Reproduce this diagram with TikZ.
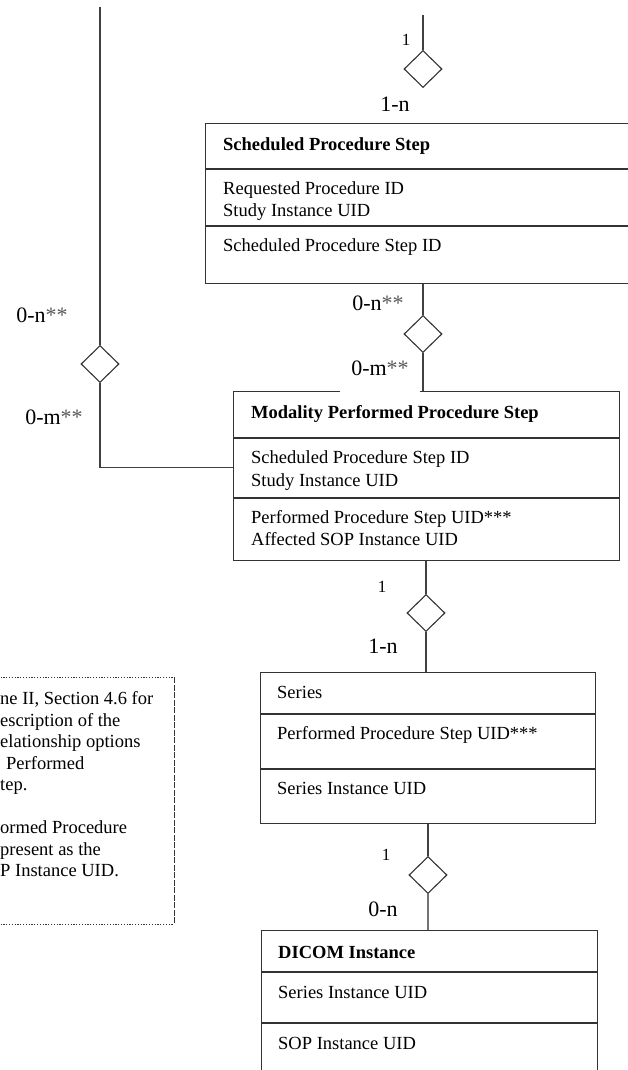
\documentclass[tikz,border=0pt]{standalone}
\usepackage{fontspec}
\setmainfont{Liberation Serif}
\usetikzlibrary{shapes.geometric}

\begin{document}
\begin{tikzpicture}[x=1pt,y=-1pt,%%
  lineStyle/.style={draw=black!75,line width=1.1pt},%%
  boxStyle/.style={draw=black!80,line width=1.4pt,inner sep=0pt},%%
  relStyle/.style={diamond,draw=black!80,line width=1.1pt,fill=white,inner sep=0pt,minimum width=38pt,minimum height=37pt},%%
  titleStyle/.style={anchor=base west,inner sep=0pt,font=\fontsize{18.5}{22}\selectfont\bfseries},%%
  fieldStyle/.style={anchor=base west,inner sep=0pt,font=\fontsize{18.5}{22}\selectfont},%%
  cardStyle/.style={inner sep=1pt,font=\fontsize{22}{26}\selectfont},%%
  oneStyle/.style={inner sep=1pt,font=\fontsize{17}{20}\selectfont},%%
  noteEdge/.style={draw=black!80,line width=1pt,dash pattern=on 1.2pt off 1.6pt},%%
  noteSide/.style={draw=black!80,line width=1pt,dash pattern=on 6pt off 1.5pt}%%
]
%%
\useasboundingbox (0,0) rectangle (627,1070);
%%
\pgfmathsetmacro{\bl}{5.5}
\newcommand{\stars}{{\color{black!65}**}}
%%
%% Scheduled Procedure Step.
\node[boxStyle,anchor=north west,minimum width=440pt,minimum height=160pt] (sps) at (205,123) {};
\draw[boxStyle] (205,169) -- (645,169);
\draw[boxStyle] (205,226) -- (645,226);
\node[titleStyle] (spsTitle) at (223,145+\bl) {Scheduled Procedure Step};
\node[fieldStyle] (spsReqId) at (223,189+\bl) {Requested Procedure ID};
\node[fieldStyle] (spsStudyUid) at (223,211+\bl) {Study Instance UID};
\node[fieldStyle] (spsStepId) at (223,246+\bl) {Scheduled Procedure Step ID};
%%
%% Modality Performed Procedure Step.
\node[boxStyle,anchor=north west,minimum width=386pt,minimum height=169pt] (mpps) at (233,391) {};
\draw[boxStyle] (233,438) -- (619,438);
\draw[boxStyle] (233,498) -- (619,498);
\node[titleStyle] (mppsTitle) at (251,413+\bl) {Modality Performed Procedure Step};
\node[fieldStyle] (mppsStepId) at (251,458+\bl) {Scheduled Procedure Step ID};
\node[fieldStyle] (mppsStudyUid) at (251,481+\bl) {Study Instance UID};
\node[fieldStyle] (mppsPpsUid) at (251,518+\bl) {Performed Procedure Step UID***};
\node[fieldStyle] (mppsSopUid) at (251,540+\bl) {Affected SOP Instance UID};
%%
%% Series.
\node[boxStyle,anchor=north west,minimum width=335pt,minimum height=151pt] (series) at (260,672) {};
\draw[boxStyle] (260,714) -- (595,714);
\draw[boxStyle] (260,769) -- (595,769);
\node[titleStyle,font=\fontsize{18.5}{22}\selectfont] (seriesTitle) at (277,693+\bl) {Series};
\node[fieldStyle] (seriesPpsUid) at (277,734+\bl) {Performed Procedure Step UID***};
\node[fieldStyle] (seriesUid) at (277,789+\bl) {Series Instance UID};
%%
%% DICOM Instance.
\node[boxStyle,anchor=north west,minimum width=336pt,minimum height=160pt] (dicom) at (261,930) {};
\draw[boxStyle] (261,972) -- (597,972);
\draw[boxStyle] (261,1023) -- (597,1023);
\node[titleStyle] (dicomTitle) at (278,953+\bl) {DICOM Instance};
\node[fieldStyle] (dicomSeriesUid) at (278,993+\bl) {Series Instance UID};
\node[fieldStyle] (dicomSopUid) at (278,1044+\bl) {SOP Instance UID};
%%
%% Cardinalities.
\node[oneStyle] (cTop) at (406,40) {1};
\node[cardStyle] (cSps) at (395,104) {1-n};
\node[cardStyle] (cSpsN) at (378,303) {0-n\stars};
\node[cardStyle,fill=white,minimum width=80pt,minimum height=50pt] (cMppsM) at (380,368) {0-m\stars};
\node[cardStyle] (cLeftN) at (42,315) {0-n\stars};
\node[cardStyle] (cLeftM) at (54,417) {0-m\stars};
\node[oneStyle] (cMpps) at (382,587) {1};
\node[cardStyle] (cSeries) at (383,646) {1-n};
\node[oneStyle] (cSeriesOne) at (386,855) {1};
\node[cardStyle] (cDicom) at (383,909) {0-n};
%%
%% Relationships.
\node[relStyle] (dTop) at (423,69) {};
\node[relStyle] (dSpsMpps) at (423,334) {};
\node[relStyle] (dLeft) at (100,364) {};
\node[relStyle] (dMppsSeries) at (426,613) {};
\node[relStyle] (dSeriesDicom) at (428,875) {};
\coordinate (topEnd) at (423,15);
\coordinate (leftEnd) at (100,7);
%%
\draw[lineStyle] (topEnd) -- (dTop.north);
\draw[lineStyle] (dSpsMpps.north |- sps.south) -- (dSpsMpps.north);
\draw[lineStyle] (dSpsMpps.south) -- (dSpsMpps.south |- mpps.north);
\draw[lineStyle] (leftEnd) -- (dLeft.north);
\draw[lineStyle] (dLeft.south) |- ([yshift=8.5pt]mpps.west);
\draw[lineStyle] (dMppsSeries.north |- mpps.south) -- (dMppsSeries.north);
\draw[lineStyle] (dMppsSeries.south) -- (dMppsSeries.south |- series.north);
\draw[lineStyle] (dSeriesDicom.north |- series.south) -- (dSeriesDicom.north);
\draw[lineStyle,draw=black!55] (dSeriesDicom.south) -- (dSeriesDicom.south |- dicom.north);
%%
%% Note, cut at the left edge.
\draw[noteEdge] (-5,677) -- (174,677);
\draw[noteEdge] (-5,924) -- (174,924);
\draw[noteSide] (174,677) -- (174,924);
\foreach \txt [count=\i] in {{ne II, Section 4.6 for},{escription of the},{elationship options},{\hspace*{6pt}Performed},{tep.},{},{ormed Procedure},{present as the},{P Instance UID.}}
  \node[fieldStyle] (note\i) at (0,699+\bl+21.5*\i-21.5) {\txt};
\end{tikzpicture}
\end{document}
